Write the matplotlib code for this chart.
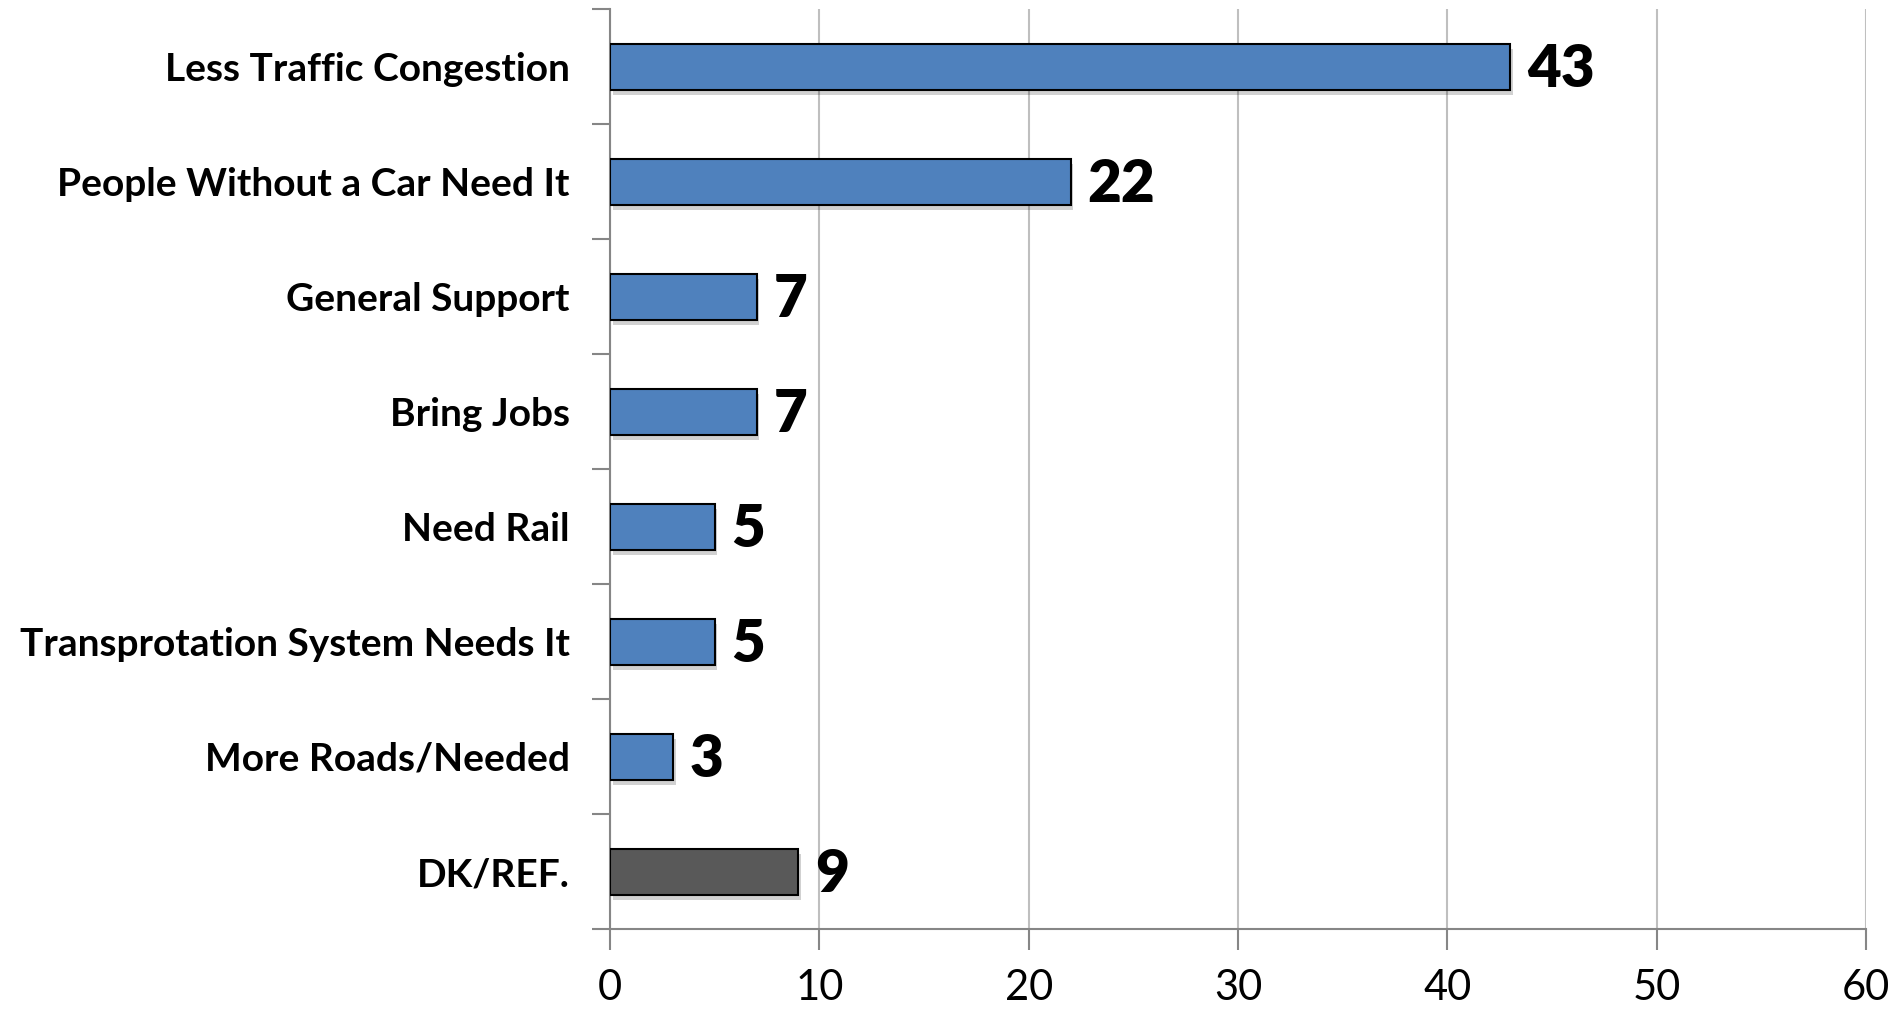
import matplotlib
matplotlib.use('Agg')
import matplotlib.pyplot as plt
import matplotlib.patheffects as pe
import numpy as np

categories = ['Less Traffic Congestion', 'People Without a Car Need It', 'General Support',
              'Bring Jobs', 'Need Rail', 'Transprotation System Needs It',
              'More Roads/Needed', 'DK/REF.']
values = [43, 22, 7, 7, 5, 5, 3, 9]
bar_colors = ['#4F81BD'] * 7 + ['#595959']
x_ticks = [0, 10, 20, 30, 40, 50, 60]

plt.rcParams['font.family'] = ['Lato', 'DejaVu Sans']

fig = plt.figure(figsize=(18.97, 10.11), dpi=100)
ax = fig.add_axes([610 / 1897, 82 / 1011, 1256 / 1897, 920 / 1011])

y = np.arange(len(categories))
bars = ax.barh(y, values, height=0.4, color=bar_colors, edgecolor='black', linewidth=1.5, zorder=3)
for b in bars:
    b.set_path_effects([pe.SimplePatchShadow(offset=(2, -4), shadow_rgbFace='#000000', alpha=0.18),
                        pe.Normal()])

# value labels to the right of each bar
for yi, v in zip(y, values):
    ax.text(v + 0.8, yi + 0.03, str(v), va='center', ha='left', fontsize=42, fontweight='heavy', color='black')

ax.set_xlim(0, 60)
ax.set_ylim(len(categories) - 0.5, -0.5)

# category boundaries as ticks, names at centers
ax.set_yticks(np.arange(len(categories) + 1) - 0.5)
ax.set_yticklabels([])
ax.set_yticks(y, minor=True)
ax.set_yticklabels(categories, minor=True, fontsize=28, fontweight='bold')
ax.tick_params(axis='y', which='major', direction='out', length=13, width=1.5, color='#868686')
ax.tick_params(axis='y', which='minor', length=0, pad=29)

ax.set_xticks(x_ticks)
ax.tick_params(axis='x', direction='out', length=15, width=1.5, color='#868686', labelsize=30, pad=14)

ax.grid(axis='x', color='#BFBFBF', linewidth=1.5, zorder=0)
ax.set_axisbelow(True)
for side in ['top', 'right']:
    ax.spines[side].set_visible(False)
for side in ['left', 'bottom']:
    ax.spines[side].set_color('#868686')
    ax.spines[side].set_linewidth(1.5)

fig.savefig('out.png', dpi=100)
plt.close()
